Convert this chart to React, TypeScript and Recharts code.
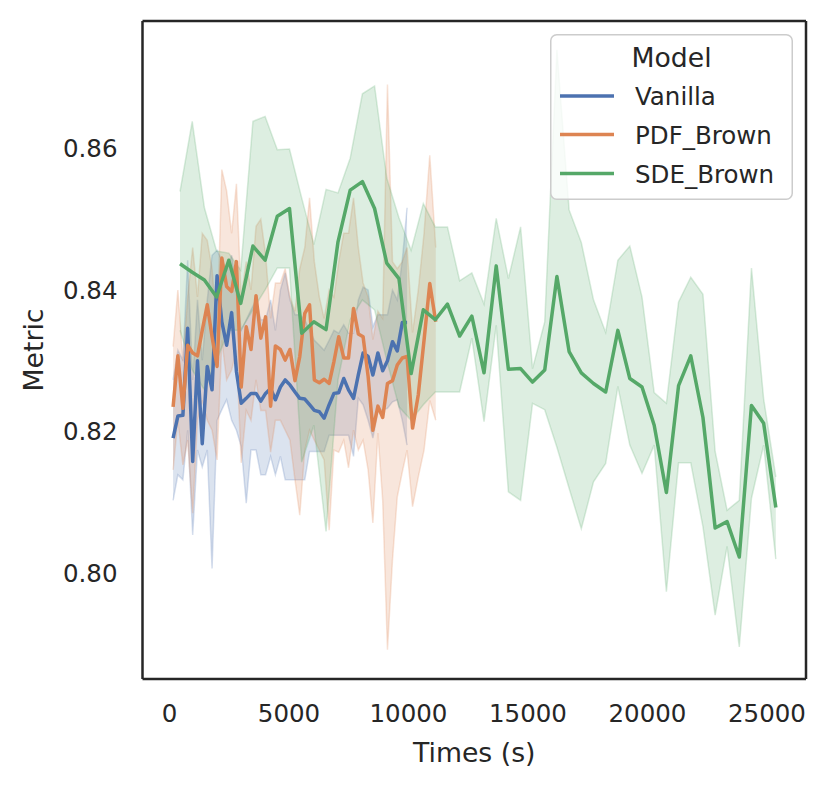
import { Area, ComposedChart, Line, XAxis, YAxis } from "recharts";

const FONT = "DejaVu Sans";
const INK = "#262626";

const seriesNames = ["Vanilla", "PDF_Brown", "SDE_Brown"];
const seriesColors = ["#4c72b0", "#dd8452", "#55a868"];

const xTicks = [0, 5000, 10000, 15000, 20000, 25000];
const yTicks = [0.8, 0.82, 0.84, 0.86];

// Vanilla
const blueTimes = [150, 350, 560, 760, 970, 1170, 1370, 1580, 1780, 1990, 2190, 2390, 2600, 2800, 3000, 3210, 3410, 3620, 3820, 4020, 4230, 4430, 4640, 4840, 5040, 5250, 5450, 5660, 5860, 6060, 6270, 6470, 6680, 6880, 7080, 7290, 7490, 7700, 7900, 8100, 8310, 8510, 8720, 8920, 9120, 9330, 9530, 9740, 9940];
const blueMean = [0.8191, 0.8222, 0.8223, 0.8346, 0.8158, 0.83, 0.8183, 0.8292, 0.8259, 0.842, 0.8355, 0.8322, 0.8368, 0.8285, 0.824, 0.8247, 0.8254, 0.8254, 0.8243, 0.8254, 0.8261, 0.8245, 0.8263, 0.8273, 0.8266, 0.8256, 0.8247, 0.8246, 0.8238, 0.823, 0.8228, 0.8219, 0.8238, 0.8254, 0.8255, 0.8275, 0.8259, 0.8247, 0.828, 0.8311, 0.8306, 0.828, 0.8311, 0.8286, 0.83, 0.8327, 0.8314, 0.8354, 0.8354];
const blueLo = [0.8103, 0.8139, 0.8132, 0.8202, 0.8054, 0.8174, 0.815, 0.8174, 0.8007, 0.8216, 0.8231, 0.8245, 0.8216, 0.8202, 0.8179, 0.8099, 0.8174, 0.8174, 0.8139, 0.8139, 0.8165, 0.8139, 0.8165, 0.8132, 0.8132, 0.8132, 0.8132, 0.8132, 0.8172, 0.8172, 0.8172, 0.8172, 0.8195, 0.8195, 0.8195, 0.8195, 0.8195, 0.8165, 0.8247, 0.8238, 0.8216, 0.8191, 0.8228, 0.8231, 0.8233, 0.8242, 0.8245, 0.8216, 0.8181];
const blueHi = [0.8273, 0.8315, 0.8301, 0.8442, 0.8273, 0.8386, 0.8301, 0.8386, 0.8449, 0.8456, 0.8442, 0.8428, 0.8449, 0.84, 0.8343, 0.8358, 0.8372, 0.8386, 0.8358, 0.8358, 0.8386, 0.8343, 0.84, 0.8424, 0.8386, 0.8365, 0.8365, 0.8358, 0.8343, 0.8329, 0.8322, 0.8315, 0.8329, 0.8343, 0.8339, 0.8351, 0.8339, 0.8339, 0.8386, 0.8404, 0.84, 0.8348, 0.8365, 0.8365, 0.8365, 0.84, 0.8386, 0.8442, 0.8516];

// PDF_Brown
const orangeTimes = [150, 350, 560, 760, 970, 1170, 1370, 1580, 1780, 1990, 2190, 2390, 2600, 2800, 3000, 3210, 3410, 3620, 3820, 4020, 4230, 4430, 4640, 4840, 5040, 5250, 5450, 5660, 5860, 6060, 6270, 6470, 6680, 6880, 7080, 7290, 7490, 7700, 7900, 8100, 8310, 8510, 8720, 8920, 9120, 9330, 9530, 9740, 9940, 10170, 10410, 10650, 10890, 11140];
const orangeMean = [0.8235, 0.8307, 0.8233, 0.8322, 0.8311, 0.8307, 0.8343, 0.8379, 0.8334, 0.8292, 0.8445, 0.8405, 0.8398, 0.844, 0.8263, 0.8348, 0.8316, 0.8392, 0.8332, 0.8362, 0.8236, 0.8321, 0.8316, 0.8301, 0.8316, 0.8272, 0.8306, 0.8367, 0.8379, 0.8273, 0.8269, 0.8274, 0.8268, 0.8299, 0.8334, 0.8304, 0.8304, 0.8374, 0.8338, 0.8334, 0.8278, 0.8202, 0.8236, 0.822, 0.8268, 0.8272, 0.8294, 0.8304, 0.8306, 0.8205, 0.8252, 0.8329, 0.8409, 0.8355];
const orangeLo = [0.8146, 0.8216, 0.8153, 0.8188, 0.8085, 0.8216, 0.8244, 0.8216, 0.8202, 0.816, 0.8329, 0.8273, 0.8287, 0.8315, 0.8156, 0.823, 0.8216, 0.8273, 0.823, 0.823, 0.8171, 0.8216, 0.8216, 0.8202, 0.8188, 0.8132, 0.8082, 0.8174, 0.8202, 0.8188, 0.8174, 0.816, 0.8061, 0.8174, 0.8171, 0.8188, 0.8149, 0.8202, 0.8174, 0.8188, 0.8146, 0.8071, 0.8198, 0.8103, 0.7892, 0.8019, 0.8108, 0.8143, 0.8174, 0.8094, 0.8136, 0.8174, 0.8244, 0.8216];
const orangeHi = [0.832, 0.84, 0.83, 0.839, 0.846, 0.839, 0.848, 0.847, 0.843, 0.834, 0.857, 0.854, 0.848, 0.855, 0.839, 0.844, 0.84, 0.849, 0.85, 0.845, 0.836, 0.841, 0.841, 0.843, 0.839, 0.837, 0.843, 0.846, 0.853, 0.844, 0.839, 0.836, 0.84, 0.839, 0.844, 0.848, 0.848, 0.853, 0.846, 0.841, 0.839, 0.833, 0.837, 0.836, 0.869, 0.844, 0.843, 0.844, 0.846, 0.834, 0.84, 0.848, 0.859, 0.846];

// SDE_Brown
const greenTimes = [440, 950, 1460, 1970, 2480, 2980, 3490, 4000, 4510, 5020, 5530, 6040, 6550, 7050, 7560, 8070, 8580, 9090, 9600, 10110, 10620, 11120, 11630, 12140, 12650, 13160, 13670, 14180, 14690, 15190, 15700, 16210, 16720, 17230, 17740, 18250, 18760, 19260, 19770, 20280, 20790, 21300, 21810, 22320, 22830, 23330, 23840, 24350, 24860, 25370];
const greenMean = [0.8437, 0.8425, 0.8414, 0.839, 0.8442, 0.8381, 0.8462, 0.8442, 0.8504, 0.8515, 0.8339, 0.8355, 0.8344, 0.8468, 0.8541, 0.8553, 0.8515, 0.8438, 0.8416, 0.8282, 0.8372, 0.8358, 0.838, 0.8335, 0.8363, 0.8283, 0.8434, 0.8288, 0.8289, 0.827, 0.8287, 0.8419, 0.8313, 0.8283, 0.8268, 0.8256, 0.8343, 0.8275, 0.8263, 0.8209, 0.8114, 0.8265, 0.8307, 0.822, 0.8064, 0.8073, 0.8023, 0.8237, 0.8212, 0.8093];
const greenLo = [0.8343, 0.8287, 0.8259, 0.8301, 0.8343, 0.8343, 0.8372, 0.84, 0.8431, 0.8431, 0.8157, 0.8209, 0.8059, 0.8273, 0.8358, 0.8386, 0.8372, 0.8301, 0.8235, 0.8216, 0.8238, 0.8256, 0.8256, 0.8256, 0.8332, 0.8214, 0.835, 0.8115, 0.8103, 0.824, 0.8231, 0.8178, 0.812, 0.8063, 0.8129, 0.8155, 0.8264, 0.8181, 0.8141, 0.8181, 0.7974, 0.8156, 0.8156, 0.8066, 0.7941, 0.8038, 0.7896, 0.8106, 0.8181, 0.802];
const greenHi = [0.8539, 0.8638, 0.8516, 0.8455, 0.8452, 0.8428, 0.8638, 0.8645, 0.8598, 0.8599, 0.853, 0.8464, 0.8542, 0.8537, 0.8586, 0.8677, 0.8688, 0.8558, 0.8502, 0.8456, 0.8522, 0.8489, 0.8489, 0.8413, 0.8424, 0.838, 0.8501, 0.8416, 0.8489, 0.8289, 0.8355, 0.8739, 0.8513, 0.8467, 0.8386, 0.834, 0.8442, 0.8462, 0.839, 0.8255, 0.824, 0.8383, 0.8418, 0.8394, 0.8172, 0.8089, 0.8103, 0.8431, 0.8246, 0.8136];

const X_DOMAIN: [number, number] = [-1130, 26632];
const Y_DOMAIN: [number, number] = [0.78508, 0.87797];

type Row = { t: number; mean: number; band: [number, number] };

function toRows(times: number[], mean: number[], lo: number[], hi: number[]): Row[] {
  return times.map((t, i) => ({ t, mean: mean[i], band: [lo[i], hi[i]] }));
}

const seriesRows = [
  toRows(blueTimes, blueMean, blueLo, blueHi),
  toRows(orangeTimes, orangeMean, orangeLo, orangeHi),
  toRows(greenTimes, greenMean, greenLo, greenHi),
];

const frame = { stroke: INK, strokeWidth: 2.5 };
const tickStyle = { fill: INK, fontSize: 24.5, fontFamily: FONT };

function XTitle(props: any) {
  const vb = props.viewBox || { x: 142.5, width: 663.5 };
  return (
    <text x={vb.x + vb.width / 2} y={762} textAnchor="middle" fill={INK} fontSize={26.7} fontFamily={FONT}>
      Times (s)
    </text>
  );
}

function YTitle() {
  return (
    <text x={43} y={350} transform="rotate(-90, 43, 350)" textAnchor="middle" fill={INK} fontSize={26.7} fontFamily={FONT}>
      Metric
    </text>
  );
}

function ModelLegend() {
  const rowsY = [62, 100.5, 139.5];
  return (
    <svg width={243} height={166} style={{ position: "absolute", left: 550, top: 34 }}>
      <rect x={0.75} y={0.75} width={241.5} height={164.5} rx={6} fill="#ffffff" fillOpacity={0.8} stroke="#cccccc" strokeWidth={1.5} />
      <text x={121.5} y={32.7} textAnchor="middle" fill={INK} fontSize={26.7} fontFamily={FONT}>
        Model
      </text>
      {seriesNames.map((name, i) => (
        <g key={name}>
          <line x1={10} x2={64} y1={rowsY[i]} y2={rowsY[i]} stroke={seriesColors[i]} strokeWidth={3.5} />
          <text x={85} y={rowsY[i] + 9} fill={INK} fontSize={24.5} fontFamily={FONT}>
            {name}
          </text>
        </g>
      ))}
    </svg>
  );
}

export default function App() {
  return (
    <div style={{ position: "absolute", left: 0, top: 0, width: 832, height: 790, background: "#ffffff" }}>
      <ComposedChart width={832} height={790} margin={{ top: 20, right: 25, bottom: 0, left: 0 }}>
        <XAxis
          dataKey="t"
          type="number"
          domain={X_DOMAIN}
          allowDataOverflow
          ticks={xTicks}
          tickLine={false}
          tickSize={0}
          tickMargin={26}
          axisLine={frame}
          tick={tickStyle}
          height={111}
          label={{ content: XTitle }}
        />
        <XAxis xAxisId="top" orientation="top" type="number" domain={X_DOMAIN} height={1} tick={false} tickLine={false} axisLine={frame} />
        <YAxis
          type="number"
          domain={Y_DOMAIN}
          allowDataOverflow
          ticks={yTicks}
          tickFormatter={(v: number) => v.toFixed(2)}
          tickLine={false}
          tickSize={0}
          tickMargin={25}
          axisLine={frame}
          tick={tickStyle}
          width={142.5}
          label={{ content: YTitle }}
        />
        <YAxis yAxisId="right" orientation="right" type="number" domain={Y_DOMAIN} width={1} tick={false} tickLine={false} axisLine={frame} />
        {seriesRows.map((rows, i) => (
          <Area
            key={`band-${seriesNames[i]}`}
            data={rows}
            dataKey="band"
            type="linear"
            fill={seriesColors[i]}
            fillOpacity={0.2}
            stroke={seriesColors[i]}
            strokeOpacity={0.22}
            strokeWidth={1.5}
            legendType="none"
            dot={false}
            activeDot={false}
            isAnimationActive={false}
          />
        ))}
        {seriesRows.map((rows, i) => (
          <Line
            key={`line-${seriesNames[i]}`}
            data={rows}
            dataKey="mean"
            name={seriesNames[i]}
            type="linear"
            stroke={seriesColors[i]}
            strokeWidth={3.5}
            strokeLinejoin="round"
            dot={false}
            activeDot={false}
            isAnimationActive={false}
          />
        ))}
      </ComposedChart>
      <ModelLegend />
    </div>
  );
}
